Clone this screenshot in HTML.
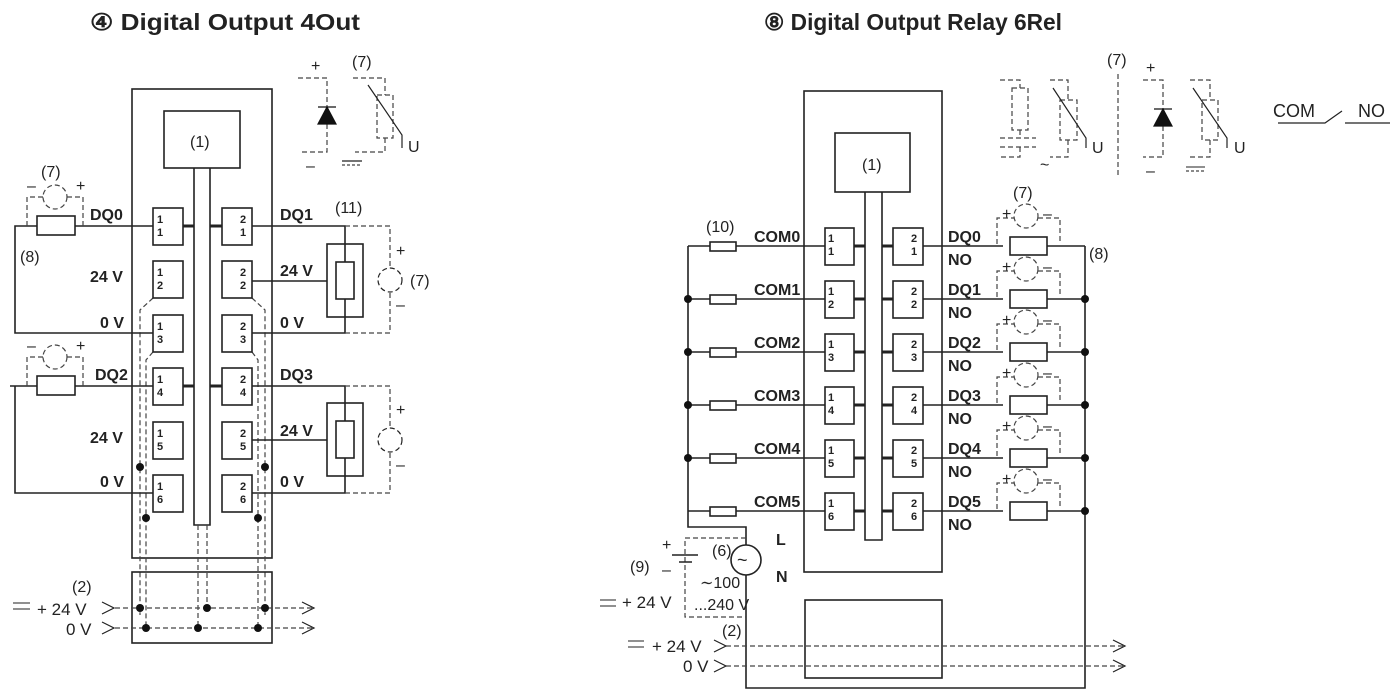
<!DOCTYPE html>
<html><head><meta charset="utf-8"><style>
html,body{margin:0;padding:0;background:#fff;}
svg{display:block;}
text{font-family:"Liberation Sans",Arial,sans-serif;fill:#222;}
.b{font-weight:bold;font-size:16px;}
.n{font-size:16px;}
.t{font-weight:bold;font-size:11px;}
.s{stroke:#222;stroke-width:1.6;fill:none;}
.th{stroke:#222;stroke-width:3;fill:none;}
.d{stroke:#444;stroke-width:1.2;fill:none;stroke-dasharray:5,3;}
.f{fill:#fff;stroke:#222;stroke-width:1.6;}
</style></head><body>
<svg width="1395" height="698" viewBox="0 0 1395 698" xmlns="http://www.w3.org/2000/svg">
<text x="90" y="30" textLength="270" lengthAdjust="spacingAndGlyphs" style="font-weight:bold;font-size:23px">④ Digital Output 4Out</text>
<text x="764" y="30" textLength="298" lengthAdjust="spacingAndGlyphs" style="font-weight:bold;font-size:23px">⑧ Digital Output Relay 6Rel</text>

<rect class="s" x="132" y="89" width="140" height="469"/>
<rect class="s" x="164" y="111" width="76" height="57"/>
<text class="n" x="190" y="147">(1)</text>
<path class="s" d="M194 168 V525 H210 V168"/>
<path class="d" d="M153 298 L140 310 V615"/>
<path class="d" d="M153 352 L146 360 V630"/>
<path class="d" d="M252 298 L265 310 V615"/>
<path class="d" d="M252 352 L258 360 V630"/>
<path class="d" d="M198 525 V630 M207 525 V610"/>
<g>
<rect class="f" x="153" y="208" width="30" height="37"/><text class="t" x="157" y="223">1</text><text class="t" x="157" y="236">1</text>
<rect class="f" x="153" y="261" width="30" height="37"/><text class="t" x="157" y="276">1</text><text class="t" x="157" y="289">2</text>
<rect class="f" x="153" y="315" width="30" height="37"/><text class="t" x="157" y="330">1</text><text class="t" x="157" y="343">3</text>
<rect class="f" x="153" y="368" width="30" height="37"/><text class="t" x="157" y="383">1</text><text class="t" x="157" y="396">4</text>
<rect class="f" x="153" y="422" width="30" height="37"/><text class="t" x="157" y="437">1</text><text class="t" x="157" y="450">5</text>
<rect class="f" x="153" y="475" width="30" height="37"/><text class="t" x="157" y="490">1</text><text class="t" x="157" y="503">6</text>
<rect class="f" x="222" y="208" width="30" height="37"/><text class="t" x="240" y="223">2</text><text class="t" x="240" y="236">1</text>
<rect class="f" x="222" y="261" width="30" height="37"/><text class="t" x="240" y="276">2</text><text class="t" x="240" y="289">2</text>
<rect class="f" x="222" y="315" width="30" height="37"/><text class="t" x="240" y="330">2</text><text class="t" x="240" y="343">3</text>
<rect class="f" x="222" y="368" width="30" height="37"/><text class="t" x="240" y="383">2</text><text class="t" x="240" y="396">4</text>
<rect class="f" x="222" y="422" width="30" height="37"/><text class="t" x="240" y="437">2</text><text class="t" x="240" y="450">5</text>
<rect class="f" x="222" y="475" width="30" height="37"/><text class="t" x="240" y="490">2</text><text class="t" x="240" y="503">6</text>
</g>
<path class="th" d="M183 226 H194 M210 226 H222 M183 386 H194 M210 386 H222"/>
<g fill="#111"><circle cx="140" cy="467" r="4"/><circle cx="146" cy="518" r="4"/><circle cx="265" cy="467" r="4"/><circle cx="258" cy="518" r="4"/></g>

<path class="s" d="M153 226 H75 M37 226 H15 V333 H153"/>
<rect class="f" x="37" y="216" width="38" height="19"/>
<path class="d" d="M27 226 V197 H43 M67 197 H83 V226"/>
<circle cx="55" cy="197" r="12" class="d"/>
<text class="n" x="41" y="177">(7)</text><text class="n" x="27" y="191">–</text><text class="n" x="76" y="191">+</text>
<text class="n" x="20" y="262">(8)</text>
<text class="b" x="90" y="220">DQ0</text><text class="b" x="90" y="282">24 V</text><text class="b" x="100" y="328">0 V</text>
<path class="s" d="M252 226 H345 V333 H252 M252 281 H327"/>
<rect class="s" x="327" y="244" width="36" height="73"/>
<rect class="f" x="336" y="262" width="18" height="37"/>
<path class="d" d="M345 226 H390 V333 H345"/>
<circle cx="390" cy="280" r="12" class="f" style="stroke-dasharray:5,3;stroke-width:1.2"/>
<text class="n" x="396" y="256">+</text><text class="n" x="396" y="310">–</text><text class="n" x="410" y="286">(7)</text>
<text class="n" x="335" y="213">(11)</text>
<text class="b" x="280" y="220">DQ1</text><text class="b" x="280" y="276">24 V</text><text class="b" x="280" y="328">0 V</text>

<path class="s" d="M153 386 H75 M37 386 H10 M15 386 V493 H153"/>
<rect class="f" x="37" y="376" width="38" height="19"/>
<path class="d" d="M27 386 V357 H43 M67 357 H83 V386"/>
<circle cx="55" cy="357" r="12" class="d"/>
<text class="n" x="27" y="351">–</text><text class="n" x="76" y="351">+</text>
<text class="b" x="95" y="380">DQ2</text><text class="b" x="90" y="443">24 V</text><text class="b" x="100" y="487">0 V</text>
<path class="s" d="M252 386 H345 V493 H252 M252 440 H327"/>
<rect class="s" x="327" y="403" width="36" height="73"/>
<rect class="f" x="336" y="421" width="18" height="37"/>
<path class="d" d="M345 386 H390 V493 H345"/>
<circle cx="390" cy="440" r="12" class="f" style="stroke-dasharray:5,3;stroke-width:1.2"/>
<text class="n" x="396" y="415">+</text><text class="n" x="396" y="470">–</text>
<text class="b" x="280" y="380">DQ3</text><text class="b" x="280" y="436">24 V</text><text class="b" x="280" y="487">0 V</text>

<rect class="s" x="132" y="572" width="140" height="71"/>
<path class="d" d="M115 608 H312 M115 628 H312"/>
<path class="s" style="stroke-width:1.2" d="M102 602 L114 608 L102 614 M102 622 L114 628 L102 634 M302 602 L314 608 L302 614 M302 622 L314 628 L302 634"/>
<g fill="#111"><circle cx="140" cy="608" r="4"/><circle cx="207" cy="608" r="4"/><circle cx="265" cy="608" r="4"/><circle cx="146" cy="628" r="4"/><circle cx="198" cy="628" r="4"/><circle cx="258" cy="628" r="4"/></g>
<text class="n" x="72" y="592">(2)</text>
<path class="s" style="stroke-width:1" d="M13 603 H30 M13 609 H30"/>
<text x="37" y="615" style="font-size:17px">+ 24 V</text>
<text x="66" y="635" style="font-size:17px">0 V</text>

<path class="d" d="M298 78 H327 V107 M327 124 V152 H300"/>
<path d="M318 107 H336 M327 107 L318 124 H336 Z" fill="#111" stroke="#111" stroke-width="1.2"/>
<text class="n" x="311" y="71">+</text>
<text class="n" x="352" y="67">(7)</text>
<path class="d" d="M353 78 H385 V95 M385 138 V152 H355"/>
<rect class="d" x="377" y="95" width="16" height="43"/>
<path class="s" style="stroke-width:1.2" d="M368 85 L402 135 V148"/>
<text class="n" x="408" y="152">U</text>
<text class="n" x="306" y="171">–</text>
<path class="s" style="stroke-width:1.2" d="M342 161 H362"/><path class="d" style="stroke-dasharray:3,2" d="M342 165 H362"/>

<rect class="s" x="804" y="91" width="138" height="481"/>
<rect class="s" x="835" y="133" width="75" height="59"/>
<text class="n" x="862" y="170">(1)</text>
<path class="s" d="M865 192 V540 H882 V192"/>
<rect class="s" x="805" y="600" width="137" height="78"/>

<path class="s" d="M688 246 V527 H746 V545 M746 575 V688 H1085 V246"/>
<circle cx="746" cy="560" r="15" class="f"/>
<text x="737" y="566" style="font-size:18px">~</text>
<text class="b" x="776" y="545">L</text><text class="b" x="776" y="582">N</text>
<text class="n" x="712" y="556">(6)</text>

<g>
<path class="s" d="M688 246 H825 M688 299 H825 M688 352 H825 M688 405 H825 M688 458 H825 M688 511 H825"/>
<path class="s" d="M923 246 H1003 M923 299 H1003 M923 352 H1003 M923 405 H1003 M923 458 H1003 M923 511 H1003"/>
<path class="s" d="M1047 246 H1085 M1047 299 H1085 M1047 352 H1085 M1047 405 H1085 M1047 458 H1085 M1047 511 H1085"/>
<path class="th" d="M854 246 H865 M882 246 H893 M854 299 H865 M882 299 H893 M854 352 H865 M882 352 H893 M854 405 H865 M882 405 H893 M854 458 H865 M882 458 H893 M854 511 H865 M882 511 H893"/>
<rect class="f" x="710" y="242" width="26" height="9"/><rect class="f" x="710" y="295" width="26" height="9"/><rect class="f" x="710" y="348" width="26" height="9"/><rect class="f" x="710" y="401" width="26" height="9"/><rect class="f" x="710" y="454" width="26" height="9"/><rect class="f" x="710" y="507" width="26" height="9"/>
<g fill="#111"><circle cx="688" cy="299" r="4"/><circle cx="688" cy="352" r="4"/><circle cx="688" cy="405" r="4"/><circle cx="688" cy="458" r="4"/>
<circle cx="1085" cy="299" r="4"/><circle cx="1085" cy="352" r="4"/><circle cx="1085" cy="405" r="4"/><circle cx="1085" cy="458" r="4"/><circle cx="1085" cy="511" r="4"/></g>
<rect class="f" x="825" y="228" width="29" height="37"/><text class="t" x="828" y="242">1</text><text class="t" x="828" y="255">1</text>
<rect class="f" x="825" y="281" width="29" height="37"/><text class="t" x="828" y="295">1</text><text class="t" x="828" y="308">2</text>
<rect class="f" x="825" y="334" width="29" height="37"/><text class="t" x="828" y="348">1</text><text class="t" x="828" y="361">3</text>
<rect class="f" x="825" y="387" width="29" height="37"/><text class="t" x="828" y="401">1</text><text class="t" x="828" y="414">4</text>
<rect class="f" x="825" y="440" width="29" height="37"/><text class="t" x="828" y="454">1</text><text class="t" x="828" y="467">5</text>
<rect class="f" x="825" y="493" width="29" height="37"/><text class="t" x="828" y="507">1</text><text class="t" x="828" y="520">6</text>
<rect class="f" x="893" y="228" width="30" height="37"/><text class="t" x="911" y="242">2</text><text class="t" x="911" y="255">1</text>
<rect class="f" x="893" y="281" width="30" height="37"/><text class="t" x="911" y="295">2</text><text class="t" x="911" y="308">2</text>
<rect class="f" x="893" y="334" width="30" height="37"/><text class="t" x="911" y="348">2</text><text class="t" x="911" y="361">3</text>
<rect class="f" x="893" y="387" width="30" height="37"/><text class="t" x="911" y="401">2</text><text class="t" x="911" y="414">4</text>
<rect class="f" x="893" y="440" width="30" height="37"/><text class="t" x="911" y="454">2</text><text class="t" x="911" y="467">5</text>
<rect class="f" x="893" y="493" width="30" height="37"/><text class="t" x="911" y="507">2</text><text class="t" x="911" y="520">6</text>
<text class="b" x="754" y="242">COM0</text><text class="b" x="754" y="295">COM1</text><text class="b" x="754" y="348">COM2</text><text class="b" x="754" y="401">COM3</text><text class="b" x="754" y="454">COM4</text><text class="b" x="754" y="507">COM5</text>
<text class="b" x="948" y="242">DQ0</text><text class="b" x="948" y="265">NO</text>
<text class="b" x="948" y="295">DQ1</text><text class="b" x="948" y="318">NO</text>
<text class="b" x="948" y="348">DQ2</text><text class="b" x="948" y="371">NO</text>
<text class="b" x="948" y="401">DQ3</text><text class="b" x="948" y="424">NO</text>
<text class="b" x="948" y="454">DQ4</text><text class="b" x="948" y="477">NO</text>
<text class="b" x="948" y="507">DQ5</text><text class="b" x="948" y="530">NO</text>
</g>
<g>
<rect class="f" x="1010" y="237" width="37" height="18"/><rect class="f" x="1010" y="290" width="37" height="18"/><rect class="f" x="1010" y="343" width="37" height="18"/><rect class="f" x="1010" y="396" width="37" height="18"/><rect class="f" x="1010" y="449" width="37" height="18"/><rect class="f" x="1010" y="502" width="37" height="18"/>
<path class="d" d="M997 244 V218 H1014 M1038 218 H1060 V244 M997 297 V271 H1014 M1038 271 H1060 V297 M997 350 V324 H1014 M1038 324 H1060 V350 M997 403 V377 H1014 M1038 377 H1060 V403 M997 456 V430 H1014 M1038 430 H1060 V456 M997 509 V483 H1014 M1038 483 H1060 V509"/>
<circle class="d" cx="1026" cy="216" r="12"/><circle class="d" cx="1026" cy="269" r="12"/><circle class="d" cx="1026" cy="322" r="12"/><circle class="d" cx="1026" cy="375" r="12"/><circle class="d" cx="1026" cy="428" r="12"/><circle class="d" cx="1026" cy="481" r="12"/>
<text class="n" x="1002" y="219">+</text><text class="n" x="1043" y="219">–</text>
<text class="n" x="1002" y="272">+</text><text class="n" x="1043" y="272">–</text>
<text class="n" x="1002" y="325">+</text><text class="n" x="1043" y="325">–</text>
<text class="n" x="1002" y="378">+</text><text class="n" x="1043" y="378">–</text>
<text class="n" x="1002" y="431">+</text><text class="n" x="1043" y="431">–</text>
<text class="n" x="1002" y="484">+</text><text class="n" x="1043" y="484">–</text>
</g>
<text class="n" x="706" y="232">(10)</text>
<text class="n" x="1013" y="198">(7)</text>
<text class="n" x="1089" y="259">(8)</text>

<path class="d" d="M746 538 H685 V617 H746"/>
<path class="s" d="M672 555 H698 M679 562 H692"/>
<text class="n" x="662" y="550">+</text><text class="n" x="662" y="575">–</text>
<text class="n" x="630" y="572">(9)</text>
<text class="n" x="700" y="588">∼100</text>
<text class="n" x="694" y="610">...240 V</text>
<path class="s" style="stroke-width:1" d="M600 600 H616 M600 606 H616"/>
<text x="622" y="608" style="font-size:17px">+ 24 V</text>
<text class="n" x="722" y="636">(2)</text>
<path class="s" style="stroke-width:1" d="M628 641 H644 M628 647 H644"/>
<text x="652" y="652" style="font-size:17px">+ 24 V</text>
<text x="683" y="672" style="font-size:17px">0 V</text>
<path class="d" d="M726 646 H1125 M726 666 H1125"/>
<path class="s" style="stroke-width:1.2" d="M714 640 L726 646 L714 652 M714 660 L726 666 L714 672 M1113 640 L1125 646 L1113 652 M1113 660 L1125 666 L1113 672"/>

<path class="d" d="M1000 80 H1020 V88 M1020 130 V138 M1000 138 H1036 M1000 147 H1036 M1020 147 V157 H1000"/>
<rect class="d" x="1012" y="88" width="16" height="42"/>
<path class="d" d="M1050 80 H1068 V100 M1068 140 V157 H1050"/>
<rect class="d" x="1060" y="100" width="17" height="40"/>
<path class="s" style="stroke-width:1.2" d="M1053 88 L1086 138 V148"/>
<text class="n" x="1092" y="153">U</text>
<text x="1040" y="170" style="font-size:16px">~</text>
<path class="d" d="M1118 74 V178"/>
<text class="n" x="1107" y="65">(7)</text>
<text class="n" x="1146" y="73">+</text>
<path class="d" d="M1143 80 H1163 V109 M1163 126 V157 H1143"/>
<path d="M1154 109 H1172 M1163 109 L1154 126 H1172 Z" fill="#111" stroke="#111" stroke-width="1.2"/>
<text class="n" x="1146" y="176">–</text>
<path class="d" d="M1190 80 H1210 V100 M1210 140 V157 H1190"/>
<rect class="d" x="1202" y="100" width="16" height="40"/>
<path class="s" style="stroke-width:1.2" d="M1193 88 L1227 138 V148"/>
<text class="n" x="1234" y="153">U</text>
<path class="s" style="stroke-width:1" d="M1186 167 H1205"/><path class="d" style="stroke-dasharray:3,2" d="M1186 171 H1205"/>
<text x="1273" y="117" style="font-size:18px">COM</text>
<text x="1358" y="117" style="font-size:18px">NO</text>
<path class="s" style="stroke-width:1.2" d="M1278 123 H1325 L1342 111 M1345 123 H1390"/>
</svg>
</body></html>
